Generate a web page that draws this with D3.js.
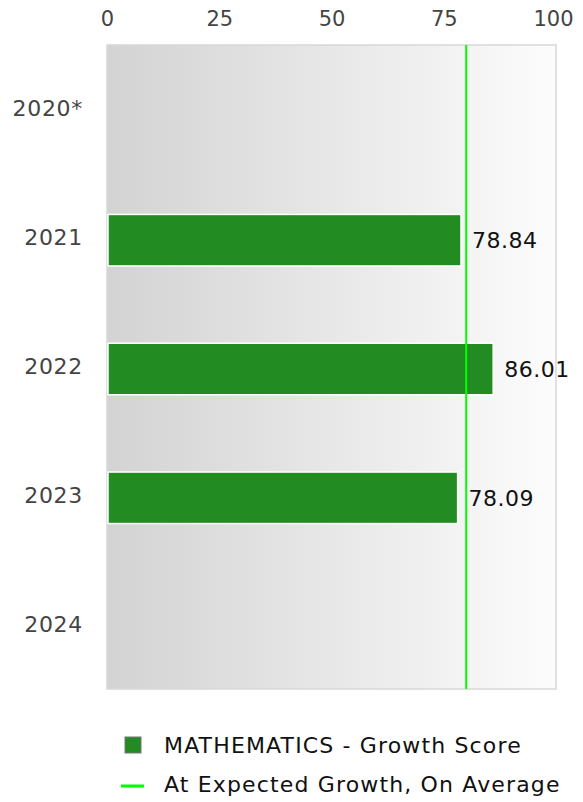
<!DOCTYPE html>
<html>
<head>
<meta charset="utf-8">
<script src="https://cdn.jsdelivr.net/npm/d3@7"></script>
<style>
    body { margin: 0; background: #fff; }
    svg { font-family: 'DejaVu Sans', sans-serif; }
</style>
</head>
<body>
<svg></svg>
<script>
// chart values
const years = ['2020*', '2021', '2022', '2023', '2024'],
    scores = [null, 78.84, 86.01, 78.09, null],
    xTicks = [0, 25, 50, 75, 100],
    expected = 80,
    legendLabels = ['MATHEMATICS - Growth Score', 'At Expected Growth, On Average'];

var margin = {top: 45, right: 27, bottom: 113, left: 107},
    width = 583 - margin.left - margin.right,
    height = 802 - margin.top - margin.bottom;

var svg = d3.select('svg')
    .attr('width', 583)
    .attr('height', 802);

var defs = svg.append('defs');
var grad = defs.append('linearGradient')
    .attr('id', 'bg')
    .attr('x1', '0%').attr('x2', '100%')
    .attr('y1', '0%').attr('y2', '0%');
grad.append('stop').attr('offset', '0%').attr('stop-color', '#d3d3d3');
grad.append('stop').attr('offset', '100%').attr('stop-color', '#fcfcfc');

var chart = svg.append('g')
    .attr('transform', 'translate(' + margin.left + ',' + margin.top + ')');

var x = d3.scaleLinear()
    .domain([0, 100])
    .range([0, width]);

var y = d3.scaleBand()
    .domain(years)
    .range([2, height + 2])
    .paddingInner(0.6)
    .paddingOuter(0.3);

chart.append('rect')
    .attr('x', 0)
    .attr('y', 0)
    .attr('width', width)
    .attr('height', height)
    .style('fill', 'url(#bg)')
    .style('stroke', '#d8d8d8')
    .style('stroke-width', 1.5);

// x axis on top
var xAxis = chart.append('g')
    .attr('class', 'axis axis--x')
    .call(d3.axisTop(x).tickValues(xTicks).tickSize(0).tickPadding(19));
xAxis.select('.domain').remove();
xAxis.selectAll('text')
    .style('font-size', '21px')
    .style('fill', '#444')
    .style('font-family', 'DejaVu Sans, sans-serif');
xAxis.selectAll('.tick:last-of-type text').attr('dx', '-3');

// y axis labels
var yAxis = chart.append('g')
    .attr('class', 'axis axis--y')
    .call(d3.axisLeft(y).tickSize(0).tickPadding(24));
yAxis.select('.domain').remove();
yAxis.selectAll('text')
    .attr('y', -2)
    .style('font-size', '22px')
    .style('letter-spacing', '0.7px')
    .style('fill', '#444')
    .style('font-family', 'DejaVu Sans, sans-serif');

var data = years.map(function(d, i) { return {year: d, score: scores[i]}; })
    .filter(function(d) { return d.score !== null; });

chart.selectAll('.bar')
    .data(data)
  .enter().append('rect')
    .attr('class', 'bar')
    .attr('x', x(0) + 1)
    .attr('y', function(d) { return y(d.year); })
    .attr('width', function(d) { return x(d.score) - x(0) - 1; })
    .attr('height', y.bandwidth())
    .style('fill', '#228b22')
    .style('stroke', '#fff')
    .style('stroke-width', 1.5);

chart.selectAll('.value')
    .data(data)
  .enter().append('text')
    .attr('class', 'value')
    .attr('x', function(d) { return x(d.score) + 11; })
    .attr('y', function(d) { return y(d.year) + y.bandwidth() / 2; })
    .attr('dy', '0.35em')
    .style('font-size', '22px')
    .style('letter-spacing', '0.5px')
    .style('fill', '#111')
    .text(function(d) { return d.score.toFixed(2); });

chart.append('line')
    .attr('x1', x(expected))
    .attr('x2', x(expected))
    .attr('y1', 0)
    .attr('y2', height)
    .style('stroke', '#00ff00')
    .style('stroke-width', 2);

// legend
var legend = svg.append('g')
    .attr('transform', 'translate(125,745)');

legend.append('rect')
    .attr('x', 0)
    .attr('y', -8)
    .attr('width', 16)
    .attr('height', 16)
    .style('fill', '#228b22')
    .style('stroke', '#777')
    .style('stroke-width', 1);

legend.append('line')
    .attr('x1', -4)
    .attr('x2', 19)
    .attr('y1', 41)
    .attr('y2', 41)
    .style('stroke', '#00ff00')
    .style('stroke-width', 3);

legend.selectAll('.legend-label')
    .data(legendLabels)
  .enter().append('text')
    .attr('class', 'legend-label')
    .attr('x', 39)
    .attr('y', function(d, i) { return i * 39; })
    .attr('dy', '0.35em')
    .style('font-size', '22px')
    .style('letter-spacing', '1.15px')
    .style('fill', '#111')
    .text(function(d) { return d; });
</script>
</body>
</html>
